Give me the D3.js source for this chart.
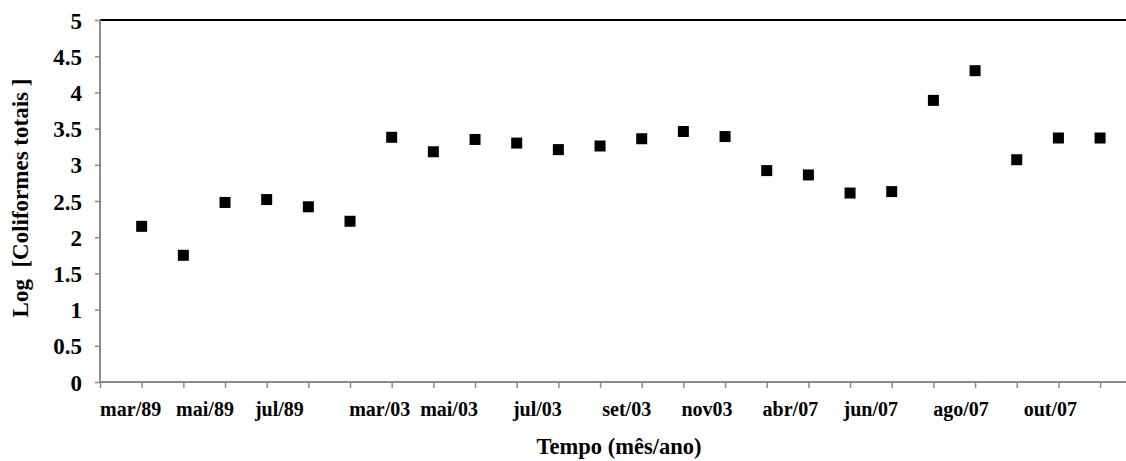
<!DOCTYPE html>
<html>
<head>
<meta charset="utf-8">
<script src="https://cdn.jsdelivr.net/npm/d3@7"></script>
<style>
  html, body { margin: 0; padding: 0; background: #fff; }
  svg { display: block; }
  text { font-family: "Liberation Serif", "Times New Roman", serif; font-weight: bold; fill: #000; }
</style>
</head>
<body>
<svg id="chart" width="1126" height="461"></svg>
<script>
// Sampling months (one point per campaign)
const categories = [
  "mar/89", "abr/89", "mai/89", "jun/89", "jul/89", "ago/89",
  "mar/03", "abr/03", "mai/03", "jun/03", "jul/03", "ago/03",
  "set/03", "out/03", "nov03", "dez/03",
  "abr/07", "mai/07", "jun/07", "jul/07", "ago/07", "set/07", "out/07", "nov/07"
];

// Log of total coliforms for each campaign
const logColiformes = [
  2.15, 1.75, 2.48, 2.52, 2.42, 2.22,
  3.38, 3.18, 3.35, 3.30, 3.21, 3.26,
  3.36, 3.46, 3.39, 2.92,
  2.86, 2.61, 2.63, 3.89, 4.30, 3.07, 3.37, 3.37
];

// Category labels printed under the axis
const xTickLabels = ["mar/89", "mai/89", "jul/89", "mar/03", "mai/03", "jul/03",
                     "set/03", "nov03", "abr/07", "jun/07", "ago/07", "out/07"];

// Y axis ticks
const yTicks = [0, 0.5, 1, 1.5, 2, 2.5, 3, 3.5, 4, 4.5, 5];

// ---- layout ----
const plotLeft = 100, plotRight = 1126, plotTop = 20, plotBottom = 382;
const step = 41.67;
// horizontal nudge (px) of each printed label relative to its category
const labelNudge = [-11, -20, -29, -12, -26, -21, -15, -18, -18, -21, -14, -8];

const svg = d3.select("#chart");

const x = d3.scaleLinear()
  .domain([0, categories.length])
  .range([plotLeft, plotLeft + step * categories.length]);

const y = d3.scaleLinear()
  .domain([0, 5])
  .range([plotBottom, plotTop]);

const axisColor = "#8a8a8a";

// top border of the plot area
svg.append("line")
  .attr("x1", plotLeft).attr("x2", plotRight)
  .attr("y1", plotTop).attr("y2", plotTop)
  .attr("stroke", "#000").attr("stroke-width", 2);

// Y axis
const yAxis = svg.append("g")
  .attr("transform", `translate(${plotLeft},0)`)
  .call(d3.axisLeft(y).tickValues(yTicks).tickSize(5).tickSizeOuter(0)
    .tickFormat(d => String(d)));
yAxis.select(".domain").remove();
yAxis.selectAll(".tick line").attr("stroke", axisColor).attr("stroke-width", 1.5);
yAxis.selectAll(".tick text")
  .attr("x", -18)
  .attr("dy", "0.35em")
  .style("font-size", "23px")
  .style("font-family", "'Liberation Serif', serif")
  .style("font-weight", "bold");
svg.append("line")
  .attr("x1", plotLeft).attr("x2", plotLeft)
  .attr("y1", plotTop).attr("y2", plotBottom)
  .attr("stroke", axisColor).attr("stroke-width", 2);

// X axis (ticks at every category boundary, points sit on ticks)
const xAxis = svg.append("g")
  .attr("transform", `translate(0,${plotBottom})`)
  .call(d3.axisBottom(x).tickValues(d3.range(0, categories.length + 1))
    .tickSize(6).tickSizeOuter(0).tickFormat(""));
xAxis.select(".domain").remove();
xAxis.selectAll(".tick line").attr("stroke", axisColor).attr("stroke-width", 1.5);
svg.append("line")
  .attr("x1", plotLeft).attr("x2", plotRight)
  .attr("y1", plotBottom).attr("y2", plotBottom)
  .attr("stroke", axisColor).attr("stroke-width", 2);

// printed category labels
svg.append("g").selectAll("text")
  .data(xTickLabels)
  .join("text")
  .attr("x", (d, i) => x(categories.indexOf(d) + 1) + labelNudge[i])
  .attr("y", 416)
  .attr("text-anchor", "middle")
  .style("font-size", "20px")
  .text(d => d);

// markers
const size = 11;
svg.append("g").selectAll("rect")
  .data(logColiformes)
  .join("rect")
  .attr("x", (d, i) => x(i + 1) - size / 2)
  .attr("y", d => y(d) - size / 2)
  .attr("width", size)
  .attr("height", size)
  .attr("fill", "#000");

// axis titles
svg.append("text")
  .attr("x", 619).attr("y", 454)
  .attr("text-anchor", "middle")
  .style("font-size", "22.5px")
  .text("Tempo (mês/ano)");

svg.append("text")
  .attr("transform", "translate(28,198) rotate(-90)")
  .attr("text-anchor", "middle")
  .style("font-size", "23px")
  .style("white-space", "pre")
  .text("Log  [Coliformes totais ]");
</script>
</body>
</html>
